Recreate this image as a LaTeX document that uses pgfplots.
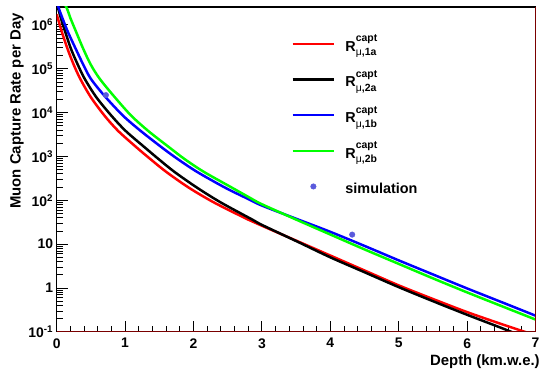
\documentclass[border=0pt]{standalone}
\usepackage{fontspec}
\setmainfont{Liberation Sans}
\usepackage{pgfplots}
\pgfplotsset{compat=1.18}
\definecolor{simblue}{HTML}{5A5ADC}
\definecolor{frameRed}{HTML}{7A0000}
\newcommand{\Rlab}[1]{R\rlap{\raisebox{9.5pt}{\fontsize{10.5}{10.5}\selectfont capt}}\raisebox{-4.5pt}{\fontsize{10.5}{10.5}\selectfont{\mdseries μ},#1}}
\pgfplotsset{
  linelegend/.style={legend image code/.code={\draw[##1, line width=2.5pt] (0pt,0pt) -- (42pt,0pt); \path (50pt,0pt);}},
  simlegend/.style={legend image code/.code={\draw[mark repeat=2,mark phase=2,##1] plot coordinates {(0pt,0pt) (21pt,0pt) (42pt,0pt)}; \path (50pt,0pt);}},
}
\begin{document}
\begin{tikzpicture}
\begin{axis}[
  width=482pt, height=327pt, scale only axis,
  xmin=0, xmax=7, ymin=0.1, ymax=2.56e6, ymode=log,
  axis line style={line width=1.2pt},
  tick align=inside, tick pos=left,
  xtick={0,1,2,3,4,5,6,7}, xticklabels={0,1,2,3,4,5,6,7},
  minor x tick num=4,
  ytick={0.1,1,10,100,1000,10000,100000,1000000},
  yticklabels={10\textsuperscript{-1},1,10,10\textsuperscript{2},10\textsuperscript{3},10\textsuperscript{4},10\textsuperscript{5},10\textsuperscript{6}},
  major tick length=11pt, minor tick length=6pt,
  tick style={black, line width=0.8pt},
  ticklabel style={font=\fontsize{14}{14}\selectfont\bfseries},
  xticklabel style={yshift=-3pt},
  xlabel={Depth (km.w.e.)}, ylabel={Muon Capture Rate per Day},
  label style={font=\fontsize{15}{15}\selectfont\bfseries},
  xlabel style={at={(axis description cs:1.016,-0.092)}, anchor=east},
  ylabel style={at={(axis description cs:-0.083,0.991)}, anchor=east},
  legend style={at={(axis description cs:0.4896,0.92)}, anchor=north west, draw=none, fill=none,
    inner sep=0pt, row sep=14pt, font=\fontsize{14.5}{14.5}\selectfont\bfseries},
  legend cell align=left,
  linelegend,
]
\addplot[red, mark=none, line width=2.5pt, smooth] coordinates {
(0.0,1.74e6) (0.025,1.29e6) (0.08,6.61e5) (0.16,2.82e5) (0.25,1.23e5) (0.345,5.89e4)
(0.5,2.24e4) (0.7,8.51e3) (0.9,3.80e3) (1.18,1549) (1.37,871) (1.6,447) (1.93,195)
(2.3,89.1) (2.8,36.3) (3.0,26.3) (3.53,11.5) (4.0,5.50) (4.5,2.51) (5.0,1.148)
(5.5,0.562) (6.0,0.282) (6.5,0.151) (7.0,0.0832)};
\addlegendentry{\Rlab{1a}}
\addplot[black, mark=none, line width=2.5pt, smooth] coordinates {
(0.0,3.16e6) (0.025,2.29e6) (0.07,1.29e6) (0.13,6.61e5) (0.21,2.82e5) (0.31,1.23e5)
(0.41,5.89e4) (0.58,2.24e4) (0.8,8.51e3) (1.01,3.80e3) (1.30,1549) (1.49,871) (1.72,447)
(2.05,195) (2.4,89.1) (2.86,36.3) (3.0,27.5) (3.53,11.2) (4.0,5.01) (4.5,2.29)
(5.0,1.047) (5.5,0.501) (6.0,0.245) (6.5,0.123) (7.0,0.0603)};
\addlegendentry{\Rlab{2a}}
\addplot[blue, mark=none, line width=2.5pt, smooth] coordinates {
(0.0,3.55e6) (0.04,2.19e6) (0.095,1.29e6) (0.17,6.61e5) (0.28,2.82e5) (0.39,1.23e5)
(0.50,5.89e4) (0.70,2.40e4) (0.97,8.51e3) (1.23,3.80e3) (1.55,1549) (1.77,871) (2.05,447)
(2.46,195) (2.8,107) (3.0,75.9) (3.5,38.0) (4.0,19.1) (4.5,9.12) (5.0,4.27)
(5.5,2.04) (6.0,0.977) (6.5,0.479) (7.0,0.234)};
\addlegendentry{\Rlab{1b}}
\addplot[green, mark=none, line width=2.5pt, smooth] coordinates {
(0.0,6.31e6) (0.14,2.57e6) (0.2,1.445e6) (0.29,6.61e5) (0.39,2.82e5) (0.5,1.23e5)
(0.63,5.89e4) (0.85,2.24e4) (1.09,8.51e3) (1.34,3.80e3) (1.66,1549) (1.87,871) (2.15,447)
(2.56,195) (2.8,120) (3.0,81.3) (3.53,34.7) (4.0,16.6) (4.5,7.59) (5.0,3.55)
(5.5,1.66) (6.0,0.794) (6.5,0.389) (7.0,0.191)};
\addlegendentry{\Rlab{2b}}
\addplot[only marks, mark=*, mark size=2.8pt, mark options={draw=simblue, fill=simblue}, simlegend]
  coordinates {(0.72,2.5e4) (4.32,16.5)};
\addlegendentry{simulation\vphantom{\Rlab{1a}}}
\end{axis}
\draw[frameRed, line width=1.2pt] (current axis.south west) -- (current axis.south east) -- (current axis.north east);
\path ([shift={(-57pt,-37pt)}]current axis.south west) rectangle ([shift={(4pt,7pt)}]current axis.north east);
\end{tikzpicture}
\end{document}
